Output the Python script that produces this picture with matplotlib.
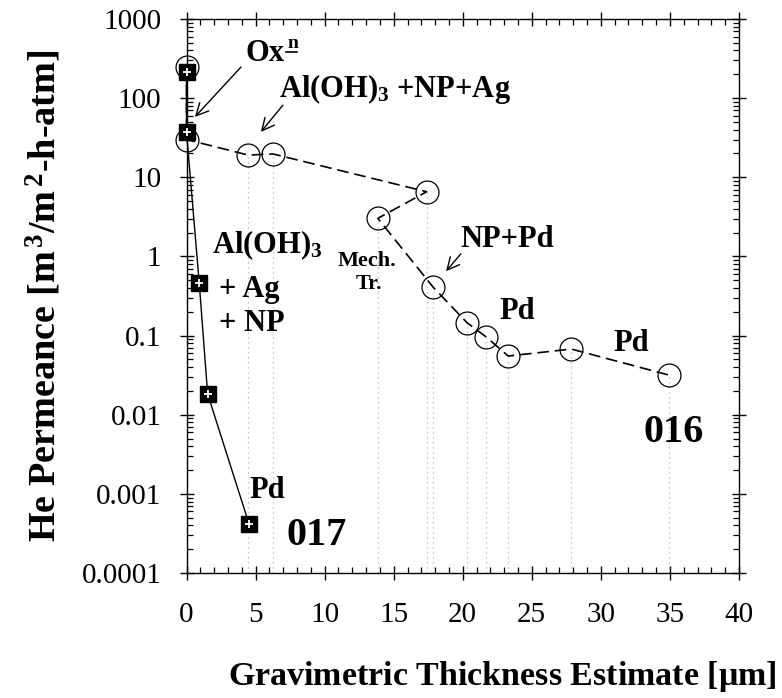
import numpy as np
import matplotlib
matplotlib.use("Agg")
import matplotlib.pyplot as plt
from matplotlib.ticker import FixedLocator, MultipleLocator, LogLocator, NullFormatter

plt.rcParams['font.family'] = ['Liberation Serif', 'DejaVu Serif']
plt.rcParams['mathtext.fontset'] = 'custom'
plt.rcParams['mathtext.rm'] = 'Liberation Serif:bold'
plt.rcParams['mathtext.bf'] = 'Liberation Serif:bold'
plt.rcParams['mathtext.it'] = 'Liberation Serif:bold'
plt.rcParams['mathtext.default'] = 'rm'

# sample 017 (filled squares, solid line)
x017 = [0.0, 0.0, 0.92, 1.53, 4.53]
y017 = [216, 37, 0.466, 0.0183, 0.000416]

# sample 016 (open circles, dashed line)
x016 = [0.0, 0.0, 4.46, 6.27, 17.39, 13.85, 17.87, 20.3, 21.67, 23.29, 27.86, 34.9]
y016 = [250, 30, 19.1, 19.7, 6.57, 3.03, 0.407, 0.146, 0.097, 0.0552, 0.0676, 0.0318]

yticks = [1e-4, 1e-3, 1e-2, 1e-1, 1, 10, 100, 1000]
ytick_labels = ['0.0001', '0.001', '0.01', '0.1', '1', '10', '100', '1000']

fig = plt.figure(figsize=(7.82, 6.98), dpi=100)
ax = fig.add_axes([0.2385, 0.179, 0.7065, 0.7938])
ax.set_yscale('log')
ax.set_xlim(0, 40)
ax.set_ylim(1e-4, 1000)

# dotted drop lines from the circles
ax.vlines(x016, 1e-4, y016, colors='#b4b4b4', linestyles=(0, (1, 3)), lw=0.9, zorder=1)

ax.plot(x016, y016, color='black', lw=1.2, ls=(0, (7, 3.5)),
        marker='o', ms=16.5, mfc='none', mec='black', mew=0.9, zorder=3, clip_on=False)
ax.plot(x017, y017, color='black', lw=1.0, marker='s', ms=11.5,
        mfc='black', mec='black', zorder=4, clip_on=False)
ax.plot(x017, y017, ls='none', marker='+', ms=6, mew=1.3, mec='white', zorder=5,
        clip_on=False)

ax.yaxis.set_major_locator(FixedLocator(yticks))
ax.set_yticklabels(ytick_labels)
ax.yaxis.set_minor_locator(LogLocator(base=10, subs=np.arange(2, 10), numticks=20))
ax.yaxis.set_minor_formatter(NullFormatter())
ax.xaxis.set_major_locator(MultipleLocator(5))
ax.xaxis.set_minor_locator(MultipleLocator(1))

ax.tick_params(which='major', direction='inout', length=10, width=1.0,
               top=True, right=True, labelsize=21)
ax.tick_params(which='minor', direction='in', length=4.5, width=0.9,
               top=True, right=True)
ax.tick_params(axis='x', which='major', pad=16)
ax.tick_params(axis='y', which='major', pad=13)
for s in ax.spines.values():
    s.set_linewidth(1.0)

ax.set_ylabel(r'He Permeance [m$^{\,3}$/m$^{\,2}$-h-atm]', fontsize=27.5, fontweight='bold')
ax.yaxis.set_label_coords(-0.222, 0.5)
ax.set_xlabel(r'Gravimetric Thickness Estimate [$\mathregular{\mu}$m]', fontsize=24.5,
              fontweight='bold')
ax.xaxis.set_label_coords(0.572, -0.156)

bold = dict(fontweight='bold', fontsize=22, va='baseline', ha='left')
arrow = dict(arrowstyle='->', color='black', lw=1.0, mutation_scale=22)

ax.text(4.30, 294, 'Ox', **bold)
ax.text(7.30, 430, 'n', fontweight='bold', fontsize=14, ha='left', va='baseline')
ax.plot([7.22, 7.98], [388, 388], color='black', lw=1.2, clip_on=False)
ax.annotate('', xy=(0.47, 54.5), xytext=(4.08, 262), arrowprops=arrow)

ax.text(6.68, 104, r'Al(OH)$_3$ +NP+Ag', **bold)
ax.annotate('', xy=(5.26, 35.2), xytext=(7.11, 86.8), arrowprops=arrow)

ax.text(1.82, 1.095, r'Al(OH)$_3$', **bold)
ax.text(2.35, 0.31, '+ Ag', **bold)
ax.text(2.35, 0.114, '+ NP', **bold)

ax.text(13.1, 0.764, 'Mech.', fontweight='bold', fontsize=16, ha='center', va='baseline')
ax.text(13.2, 0.384, 'Tr.', fontweight='bold', fontsize=16, ha='center', va='baseline')

ax.text(19.81, 1.33, 'NP+Pd', **bold)
ax.annotate('', xy=(18.66, 0.612), xytext=(19.99, 1.147), arrowprops=arrow)

ax.text(22.64, 0.160, 'Pd', **bold)
ax.text(30.94, 0.0644, 'Pd', **bold)
ax.text(4.58, 0.000878, 'Pd', **bold)

ax.text(33.1, 0.00456, '016', fontweight='bold', fontsize=29, ha='left', va='baseline')
ax.text(7.23, 0.000226, '017', fontweight='bold', fontsize=29, ha='left', va='baseline')

fig.savefig('out.png', dpi=100)
